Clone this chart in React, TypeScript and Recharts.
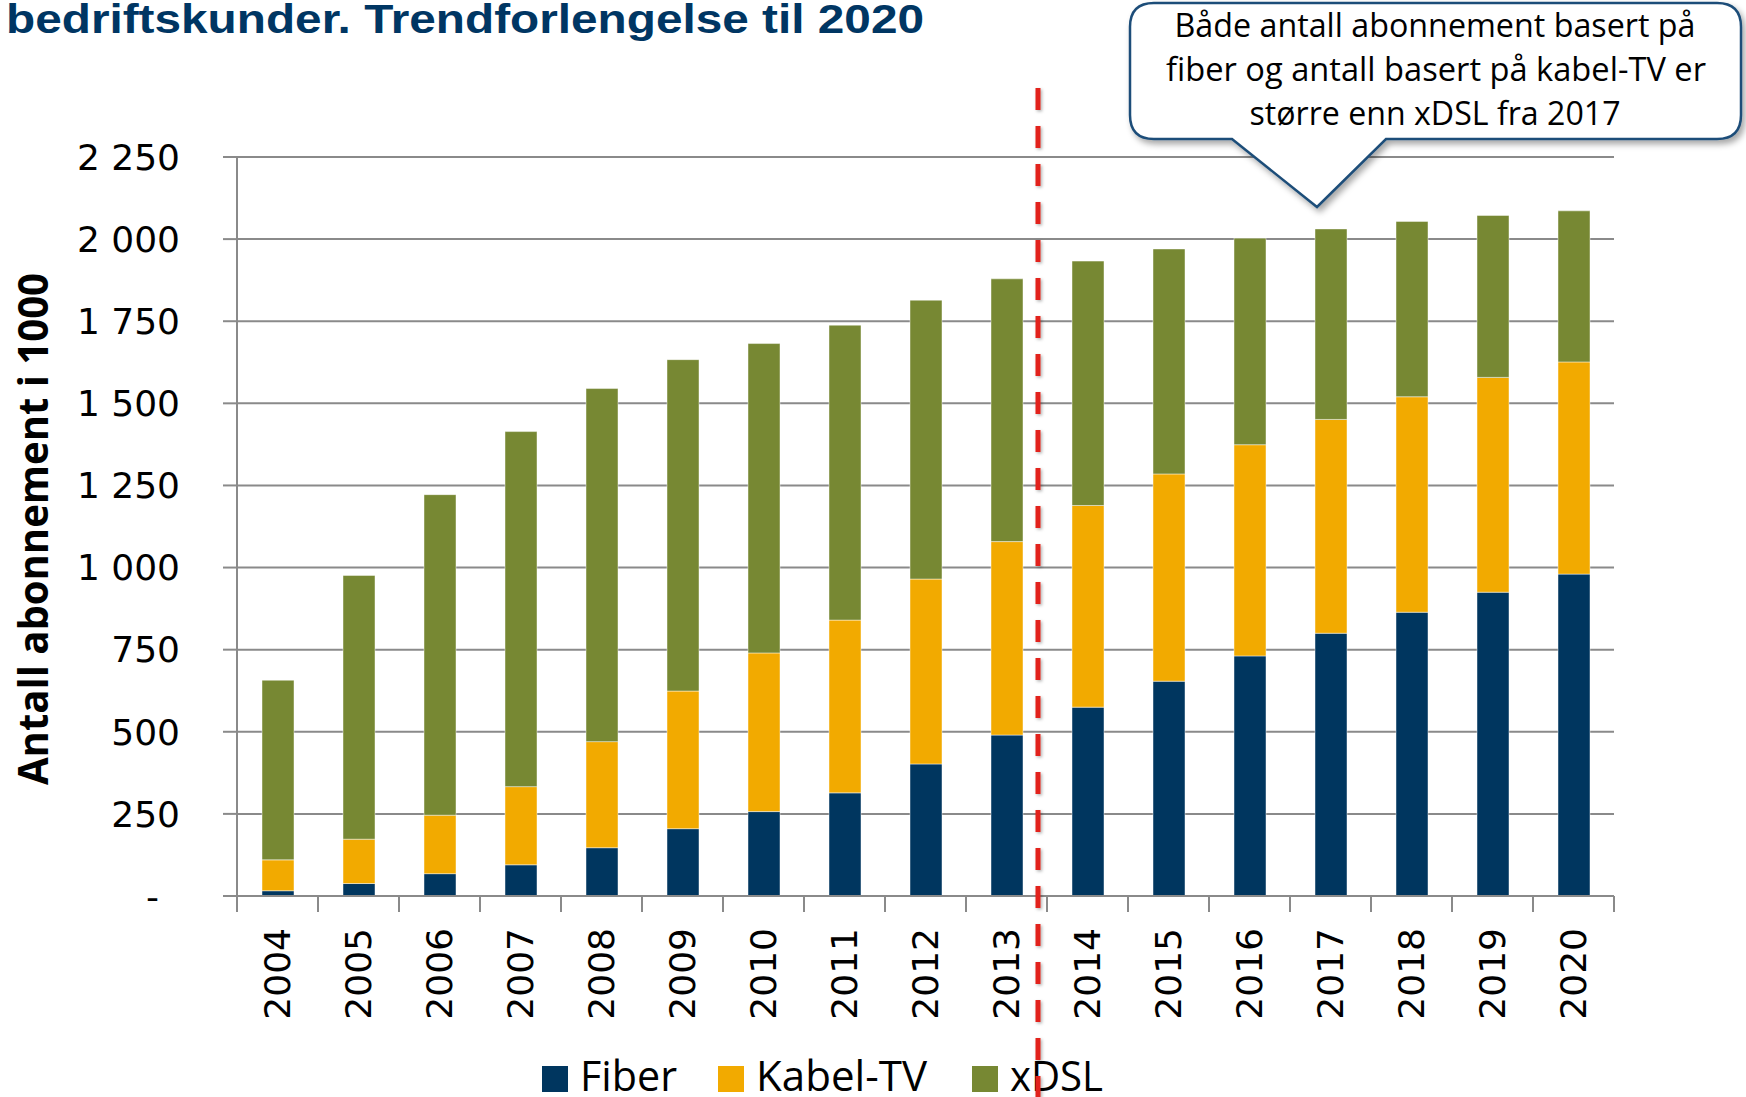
import React from "react"
import { Bar, BarChart, CartesianGrid, XAxis, YAxis } from "recharts"

const years = [
  "2004", "2005", "2006", "2007", "2008", "2009", "2010", "2011", "2012",
  "2013", "2014", "2015", "2016", "2017", "2018", "2019", "2020",
]
const fiber = [16, 38, 68, 95, 147, 205, 257, 314, 402, 490, 575, 654, 731, 800, 864, 925, 980]
const kabelTv = [94, 135, 178, 238, 323, 419, 483, 526, 563, 589, 614, 631, 643, 651, 656, 654, 646]
const xdsl = [547, 803, 976, 1081, 1075, 1009, 942, 898, 849, 800, 744, 685, 629, 580, 534, 493, 460]
const yTicks = [0, 250, 500, 750, 1000, 1250, 1500, 1750, 2000, 2250]

const series = [
  { key: "fiber", name: "Fiber", color: "#00365f", legendX: 542, textLen: 97 },
  { key: "kabel", name: "Kabel-TV", color: "#f2aa00", legendX: 718, textLen: 171 },
  { key: "xdsl", name: "xDSL", color: "#778833", legendX: 972, textLen: 93 },
]

const data = years.map((year, i) => ({
  year,
  fiber: fiber[i],
  kabel: kabelTv[i],
  xdsl: xdsl[i],
}))

const GRID = "#8a8a8a"
const TICK_FONT = "'DejaVu Sans', Verdana, sans-serif"
const TEXT_FONT = "'Open Sans', 'Noto Sans', sans-serif"

function fmt(v: number) {
  if (v === 0) return "-"
  if (v < 1000) return String(v)
  return `${Math.floor(v / 1000)} ${String(v % 1000).padStart(3, "0")}`
}

function YTick({ x, y, payload }: any) {
  const v = payload.value as number
  return (
    <text
      x={v === 0 ? x - 21 : x}
      y={y}
      dy="0.355em"
      textAnchor="end"
      fontFamily={TICK_FONT}
      fontSize={36}
      fill="#000"
    >
      {fmt(v)}
    </text>
  )
}

function XTick({ x, y, payload, index }: any) {
  const half = payload.offset || 40.5
  const axisY = y - 32
  return (
    <g>
      <line x1={x - half} x2={x - half} y1={axisY} y2={axisY + 16} stroke={GRID} strokeWidth={2} />
      {index === years.length - 1 && (
        <line x1={x + half} x2={x + half} y1={axisY} y2={axisY + 16} stroke={GRID} strokeWidth={2} />
      )}
      <text
        transform={`translate(${x},${y}) rotate(-90)`}
        textAnchor="end"
        dy="0.36em"
        fontFamily={TICK_FONT}
        fontSize={36}
        fill="#000"
      >
        {payload.value}
      </text>
    </g>
  )
}

// callout box with pointer
const L = 1130, T = 3, R = 1741, B = 139, r = 24
const calloutPath = [
  `M ${L + r} ${T}`,
  `H ${R - r}`,
  `Q ${R} ${T} ${R} ${T + r}`,
  `V ${B - r}`,
  `Q ${R} ${B} ${R - r} ${B}`,
  `H 1386`,
  `L 1317 207`,
  `L 1232 ${B}`,
  `H ${L + r}`,
  `Q ${L} ${B} ${L} ${B - r}`,
  `V ${T + r}`,
  `Q ${L} ${T} ${L + r} ${T}`,
  "Z",
].join(" ")

export default function App() {
  return (
    <div
      style={{
        position: "fixed",
        left: 0,
        top: 0,
        width: 1746,
        height: 1097,
        background: "#fff",
        overflow: "hidden",
      }}
    >
      <BarChart
        width={1746}
        height={1097}
        data={data}
        margin={{ top: 157, right: 132, bottom: 81, left: 137 }}
      >
        <CartesianGrid vertical={false} stroke={GRID} strokeWidth={2} />
        <XAxis
          dataKey="year"
          height={120}
          interval={0}
          tickLine={false}
          tickSize={16}
          tickMargin={16}
          axisLine={{ stroke: GRID, strokeWidth: 2 }}
          tick={<XTick />}
        />
        <YAxis
          width={100}
          domain={[0, 2250]}
          ticks={yTicks}
          interval={0}
          tickSize={14}
          tickMargin={43}
          axisLine={{ stroke: GRID, strokeWidth: 2 }}
          tickLine={{ stroke: GRID, strokeWidth: 2 }}
          tick={<YTick />}
        />
        {series.map((s) => (
          <Bar
            key={s.key}
            dataKey={s.key}
            name={s.name}
            stackId="a"
            fill={s.color}
            stroke="#ffffff"
            strokeOpacity={0.45}
            strokeWidth={1}
            barSize={32}
            isAnimationActive={false}
          />
        ))}
      </BarChart>

      <svg
        width={1746}
        height={1097}
        style={{ position: "absolute", left: 0, top: 0, pointerEvents: "none" }}
      >
        <defs>
          <filter id="calloutShadow" x="-10%" y="-10%" width="120%" height="140%">
            <feDropShadow dx="3" dy="4" stdDeviation="3" floodColor="#000" floodOpacity="0.35" />
          </filter>
          <filter id="lineShadow" filterUnits="userSpaceOnUse" x="1020" y="70" width="40" height="1040">
            <feDropShadow dx="1.5" dy="1.5" stdDeviation="1.5" floodColor="#000" floodOpacity="0.3" />
          </filter>
        </defs>

        <text
          x={6}
          y={33}
          fontFamily="'Liberation Sans', Arial, sans-serif"
          fontWeight="bold"
          fontSize={40}
          fill="#003663"
          textLength={918}
          lengthAdjust="spacingAndGlyphs"
        >
          bedriftskunder. Trendforlengelse til 2020
        </text>

        <text
          transform="translate(48,529) rotate(-90)"
          textAnchor="middle"
          fontFamily={TEXT_FONT}
          fontWeight="bold"
          fontSize={42}
          fill="#000"
          textLength={512}
          lengthAdjust="spacingAndGlyphs"
        >
          Antall abonnement i 1000
        </text>

        <path
          d={calloutPath}
          fill="#fff"
          stroke="#1f4e79"
          strokeWidth={2.5}
          filter="url(#calloutShadow)"
        />
        <g fontFamily={TEXT_FONT} fontSize={32} fill="#000" textAnchor="middle">
          <text x={1435} y={37} textLength={521} lengthAdjust="spacingAndGlyphs">
            Både antall abonnement basert på
          </text>
          <text x={1436} y={81} textLength={540} lengthAdjust="spacingAndGlyphs">
            fiber og antall basert på kabel-TV er
          </text>
          <text x={1435} y={125} textLength={371} lengthAdjust="spacingAndGlyphs">
            større enn xDSL fra 2017
          </text>
        </g>

        {series.map((s) => (
          <g key={s.key}>
            <rect x={s.legendX} y={1066} width={26} height={26} fill={s.color} />
            <text
              x={s.legendX + 38}
              y={1091}
              fontFamily={TEXT_FONT}
              fontSize={42}
              fill="#000"
              textLength={s.textLen}
              lengthAdjust="spacingAndGlyphs"
            >
              {s.name}
            </text>
          </g>
        ))}

        <line
          x1={1038}
          x2={1038}
          y1={88}
          y2={1097}
          stroke="#e2231a"
          strokeWidth={5}
          strokeDasharray="22 16"
          filter="url(#lineShadow)"
        />
      </svg>
    </div>
  )
}
